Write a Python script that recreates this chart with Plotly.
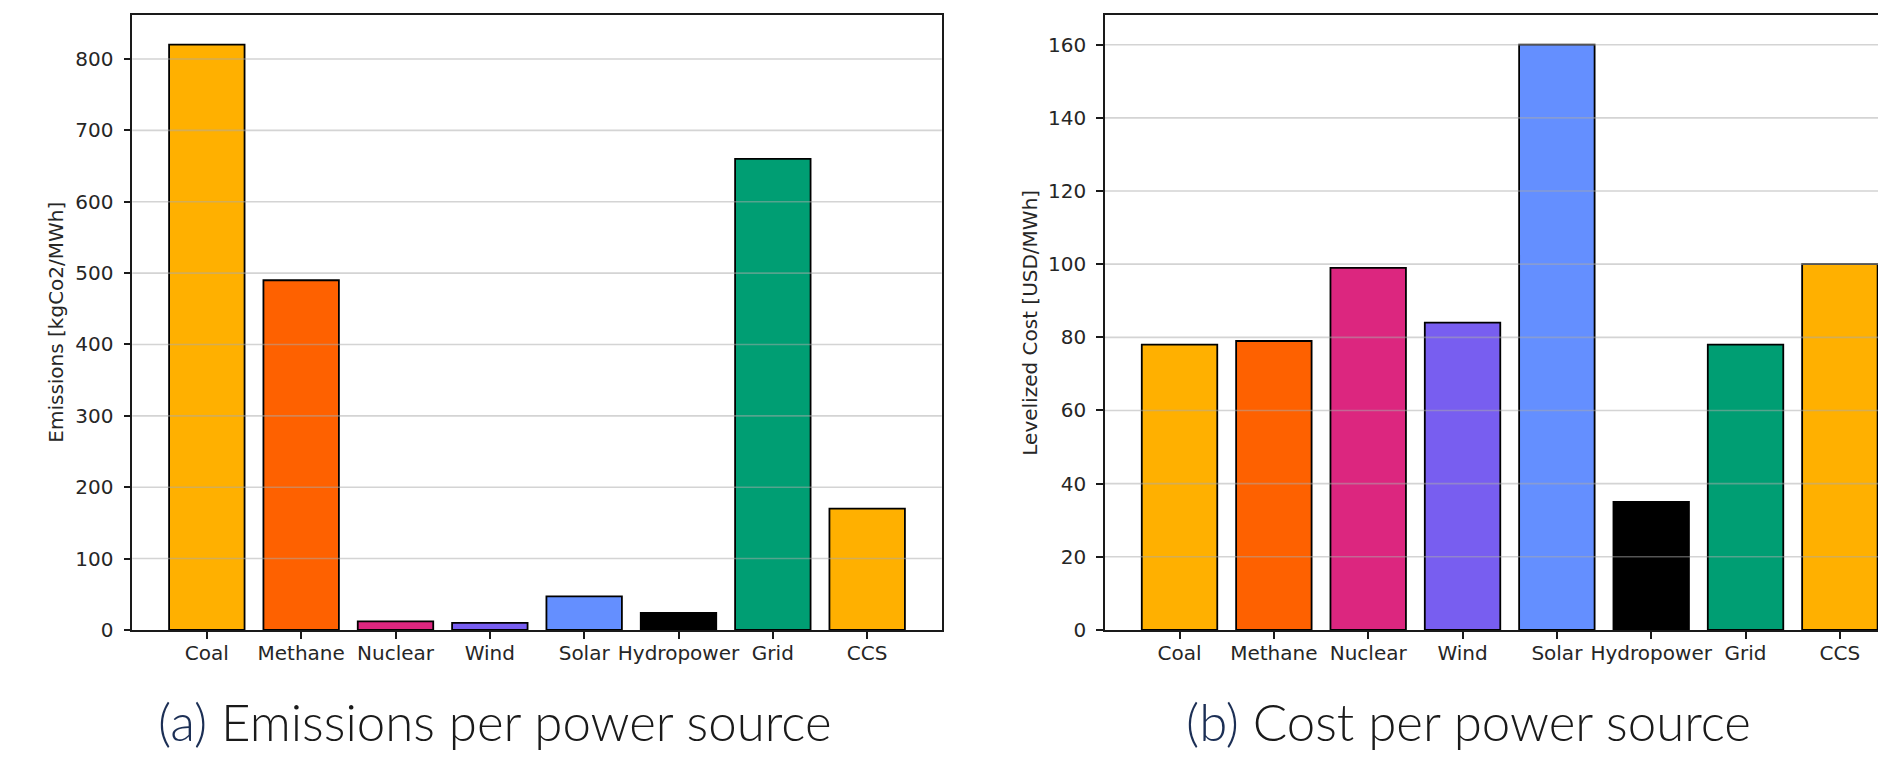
import plotly.graph_objects as go

# ---------------- data ----------------
categories = ["Coal", "Methane", "Nuclear", "Wind", "Solar", "Hydropower", "Grid", "CCS"]
emissions = [820, 490, 12, 10, 47, 24, 660, 170]          # kgCo2/MWh
costs = [78, 79, 99, 84, 160, 35, 78, 100]                # USD/MWh
bar_colors = ["#FFB000", "#FE6100", "#DC267F", "#785EF0", "#648FFF", "#000000", "#009E73", "#FFB000"]
emis_ticks = [0, 100, 200, 300, 400, 500, 600, 700, 800]
cost_ticks = [0, 20, 40, 60, 80, 100, 120, 140, 160]
ylabel_a = "Emissions [kgCo2/MWh]"
ylabel_b = "Levelized Cost [USD/MWh]"
caption_a = ("(a)", "Emissions per power source")
caption_b = ("(b)", "Cost per power source")

W, H = 1878, 764
TICK_FONT = dict(family="DejaVu Sans", size=20, color="#262626")
AXIS_COLOR = "#1a1a1a"
GRID_COLOR = "rgba(170,170,170,0.5)"

fig = go.Figure()
fig.add_trace(go.Bar(x=categories, y=emissions, width=0.8, xaxis="x", yaxis="y",
                     marker=dict(color=bar_colors, line=dict(color="#000000", width=1.8)),
                     showlegend=False, hoverinfo="x+y"))
fig.add_trace(go.Bar(x=categories, y=costs, width=0.8, xaxis="x2", yaxis="y2",
                     marker=dict(color=bar_colors, line=dict(color="#000000", width=1.8)),
                     showlegend=False, hoverinfo="x+y"))

y_dom = [(H - 640) / H, (H - 15.7) / H]
left_dom = [132.3 / W, 941.7 / W]
right_dom = [1105 / W, 1.0]
n = len(categories)
pad = 0.4 + 0.05 * (n - 1 + 0.8)
xr_left = [-pad, n - 1 + pad]
cat_px = (941.7 - 132.3) / (xr_left[1] - xr_left[0])
xr_right = [-pad, -pad + (W - 1105) / cat_px]

common_x = dict(type="category", showgrid=False, showline=True, linecolor=AXIS_COLOR, linewidth=1.6,
                ticks="outside", ticklen=7, tickwidth=1.6, tickcolor=AXIS_COLOR,
                tickfont=TICK_FONT, ticklabelstandoff=-3, zeroline=False, fixedrange=True)
common_y = dict(showgrid=False, showline=True, linecolor=AXIS_COLOR, linewidth=1.6,
                ticks="outside", ticklen=7, tickwidth=1.6, tickcolor=AXIS_COLOR,
                tickfont=TICK_FONT, ticklabelstandoff=6, zeroline=False, fixedrange=True)

fig.update_layout(
    width=W, height=H, margin=dict(l=0, r=0, t=0, b=0),
    paper_bgcolor="white", plot_bgcolor="white",
    bargap=0.2,
    xaxis=dict(common_x, domain=left_dom, range=xr_left, anchor="y", mirror=True),
    yaxis=dict(common_y, domain=y_dom, range=[0, max(emissions) * 1.05], anchor="x",
               tickvals=emis_ticks, mirror=True),
    xaxis2=dict(common_x, domain=right_dom, range=xr_right, anchor="y2", mirror=True),
    yaxis2=dict(common_y, domain=y_dom, range=[0, max(costs) * 1.05], anchor="x2",
                tickvals=cost_ticks, mirror=False),
)

# grid lines drawn above the bars (as in the reference)
shapes = []
for v in emis_ticks[1:]:
    shapes.append(dict(type="line", xref="x domain", yref="y", x0=0, x1=1, y0=v, y1=v,
                       line=dict(color=GRID_COLOR, width=1.6), layer="above"))
for v in cost_ticks[1:]:
    shapes.append(dict(type="line", xref="x2 domain", yref="y2", x0=0, x1=1, y0=v, y1=v,
                       line=dict(color=GRID_COLOR, width=1.6), layer="above"))
fig.update_layout(shapes=shapes)

ann = []
ann.append(dict(text=ylabel_a, x=56 / W, y=(y_dom[0] + y_dom[1]) / 2, xref="paper", yref="paper",
                textangle=-90, showarrow=False, xanchor="center", yanchor="middle",
                font=dict(family="DejaVu Sans", size=20, color="#262626")))
ann.append(dict(text=ylabel_b, x=1030 / W, y=(y_dom[0] + y_dom[1]) / 2, xref="paper", yref="paper",
                textangle=-90, showarrow=False, xanchor="center", yanchor="middle",
                font=dict(family="DejaVu Sans", size=20, color="#262626")))
for cap, cx in ((caption_a, 494.5), (caption_b, 1468.7)):
    ann.append(dict(text="<span style='color:#1c2f55'>%s</span> %s" % cap,
                    x=cx / W, y=(H - 733.5) / H, xref="paper", yref="paper",
                    showarrow=False, xanchor="center", yanchor="middle",
                    font=dict(family="Lato", size=51, color="#1a1a1a", weight=300)))
fig.update_layout(annotations=ann)

fig.write_html("out.html", config={"displayModeBar": False},
               post_script="document.body.style.margin='0';")
